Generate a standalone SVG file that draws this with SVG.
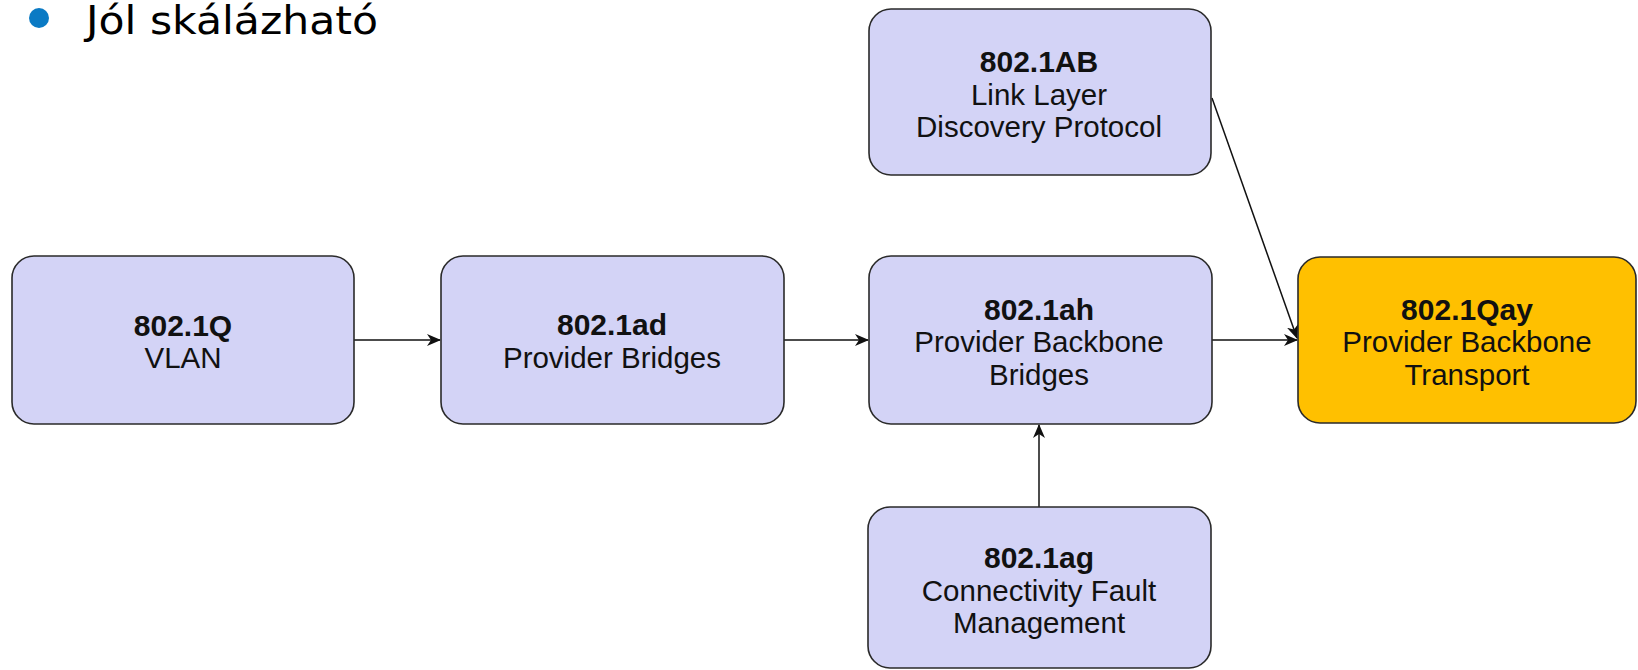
<svg xmlns="http://www.w3.org/2000/svg" width="1638" height="670" viewBox="0 0 1638 670">
<style>
.node{fill:#D3D3F6;stroke:#2a2a2a;stroke-width:1.6}
.hl{fill:#FFC000}
.t{font-family:"Liberation Sans",Arial,sans-serif;font-size:29.5px;fill:#111;text-anchor:middle}
.b{font-weight:bold;font-size:30px}
.c{stroke:#111;stroke-width:1.5;fill:none;marker-end:url(#ah)}
</style>
<defs>
<marker id="ah" markerWidth="14" markerHeight="12" refX="13" refY="6" orient="auto" markerUnits="userSpaceOnUse">
<path d="M0,0 L14,6 L0,12 L4,6 Z" fill="#111"/>
</marker>
</defs>
<rect width="1638" height="670" fill="#fff"/>
<g id="title">
<circle cx="39" cy="18" r="10" fill="#0A7AC4"/>
<text x="86" y="34" font-family="DejaVu Sans,Verdana,sans-serif" font-size="39" textLength="292" lengthAdjust="spacingAndGlyphs" fill="#000">Jól skálázható</text>
</g>
<g id="connectors">
<line class="c" x1="354" y1="340" x2="440" y2="340"/>
<line class="c" x1="784" y1="340" x2="868" y2="340"/>
<line class="c" x1="1212" y1="340" x2="1297" y2="340"/>
<line class="c" x1="1212" y1="98" x2="1297" y2="338"/>
<line class="c" x1="1039" y1="507" x2="1039" y2="425"/>
</g>
<g id="n-8021q">
<rect class="node" x="12" y="256" width="342" height="168" rx="22"/>
<text class="t b" x="183" y="336">802.1Q</text>
<text class="t" x="183" y="368">VLAN</text>
</g>
<g id="n-8021ad">
<rect class="node" x="441" y="256" width="343" height="168" rx="22"/>
<text class="t b" x="612" y="335">802.1ad</text>
<text class="t" x="612" y="368">Provider Bridges</text>
</g>
<g id="n-8021ah">
<rect class="node" x="869" y="256" width="343" height="168" rx="22"/>
<text class="t b" x="1039" y="320">802.1ah</text>
<text class="t" x="1039" y="352">Provider Backbone</text>
<text class="t" x="1039" y="385">Bridges</text>
</g>
<g id="n-8021ab">
<rect class="node" x="869" y="9" width="342" height="166" rx="22"/>
<text class="t b" x="1039" y="72">802.1AB</text>
<text class="t" x="1039" y="105">Link Layer</text>
<text class="t" x="1039" y="137">Discovery Protocol</text>
</g>
<g id="n-8021ag">
<rect class="node" x="868" y="507" width="343" height="161" rx="22"/>
<text class="t b" x="1039" y="568">802.1ag</text>
<text class="t" x="1039" y="601">Connectivity Fault</text>
<text class="t" x="1039" y="633">Management</text>
</g>
<g id="n-8021qay">
<rect class="node hl" x="1298" y="257" width="338" height="166" rx="22"/>
<text class="t b" x="1467" y="320">802.1Qay</text>
<text class="t" x="1467" y="352">Provider Backbone</text>
<text class="t" x="1467" y="385">Transport</text>
</g>
</svg>
